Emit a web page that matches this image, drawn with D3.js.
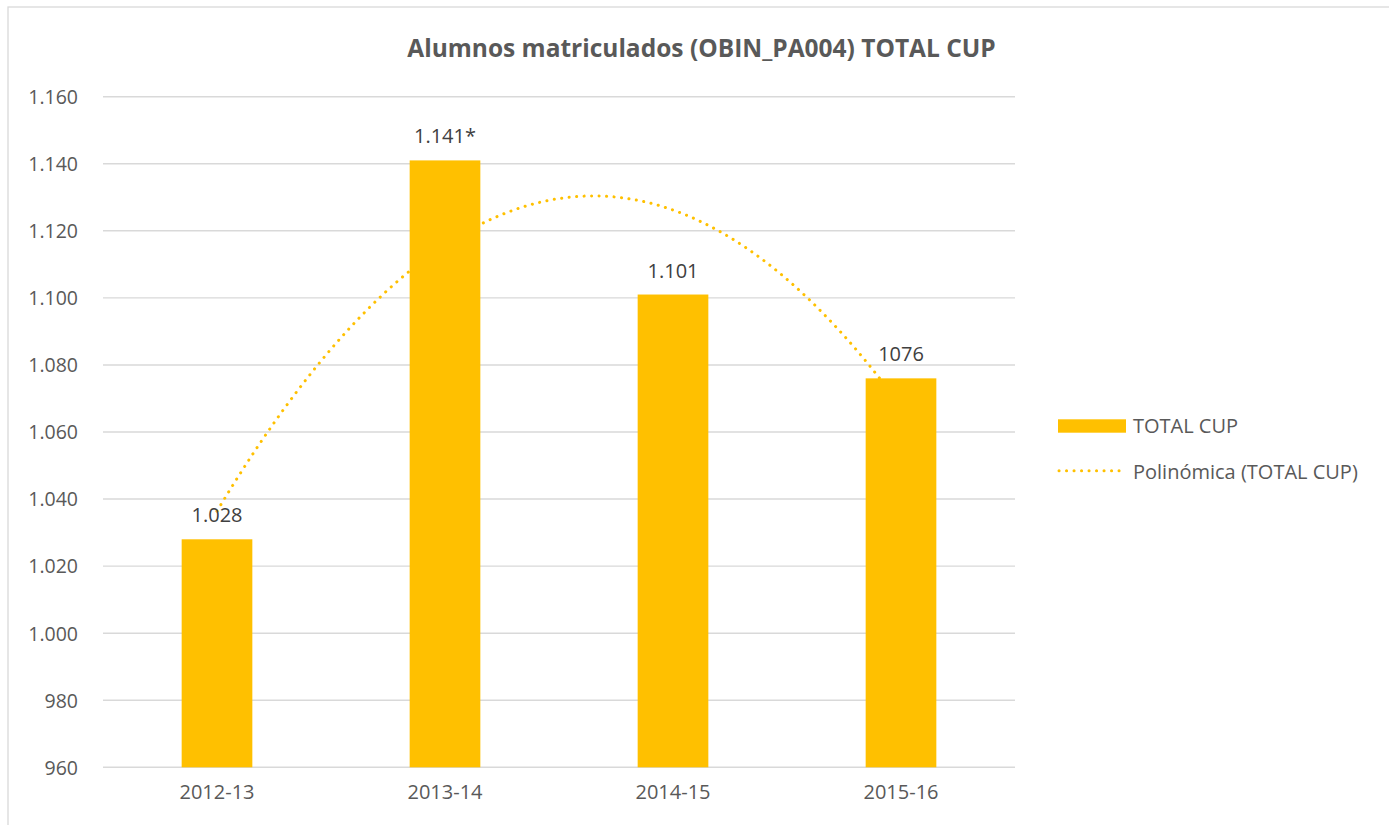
<!DOCTYPE html>
<html>
<head>
<meta charset="utf-8">
<script src="https://cdn.jsdelivr.net/npm/d3@7"></script>
<style>
  html, body { margin: 0; padding: 0; background: #fff; }
  svg { display: block; font-family: "Open Sans", "Noto Sans", sans-serif; }
</style>
</head>
<body>
<svg id="chart" width="1389" height="825"></svg>
<script>
// ---- data ----
const categories = ["2012-13", "2013-14", "2014-15", "2015-16"];
const values = [1028, 1141, 1101, 1076];
const dataLabels = ["1.028", "1.141*", "1.101", "1076"];
const yTicks = [960, 980, 1000, 1020, 1040, 1060, 1080, 1100, 1120, 1140, 1160];
const yTickLabels = ["960", "980", "1.000", "1.020", "1.040", "1.060", "1.080", "1.100", "1.120", "1.140", "1.160"];
const titleText = "Alumnos matriculados (OBIN_PA004) TOTAL CUP";
const seriesName = "TOTAL CUP";
const trendName = "Polinómica (TOTAL CUP)";

// ---- layout ----
const W = 1389, H = 825;
const plot = { left: 103, right: 1015, top: 96.7, bottom: 767.3 };
const barColor = "#FFC000";
const textColor = "#595959";
const gridColor = "#d9d9d9";
const fs = 19.5;

const svg = d3.select("#chart");

// chart border
svg.append("rect")
  .attr("x", 8).attr("y", 7)
  .attr("width", W + 20).attr("height", H + 20)
  .attr("fill", "none").attr("stroke", gridColor).attr("stroke-width", 1.3);

const x = d3.scaleBand().domain(categories)
  .range([plot.left, plot.right]).paddingInner(0.69).paddingOuter(0.345);
const y = d3.scaleLinear().domain([960, 1160]).range([plot.bottom, plot.top]);

// gridlines
svg.append("g").selectAll("line").data(yTicks).join("line")
  .attr("x1", plot.left).attr("x2", plot.right)
  .attr("y1", d => y(d)).attr("y2", d => y(d))
  .attr("stroke", gridColor).attr("stroke-width", 1.4);

// y axis labels
const yAxis = d3.axisLeft(y).tickValues(yTicks)
  .tickFormat((d, i) => yTickLabels[i]).tickSize(0).tickPadding(0);
const yg = svg.append("g").attr("transform", `translate(${78},0)`).call(yAxis);
yg.select(".domain").remove();
yg.selectAll("text").attr("fill", textColor).attr("font-size", fs)
  .attr("font-family", '"Open Sans", sans-serif').attr("dy", "0.35em");

// x axis labels
const xAxis = d3.axisBottom(x).tickSize(0).tickPadding(0);
const xg = svg.append("g").attr("transform", `translate(0,${plot.bottom + 25})`).call(xAxis);
xg.select(".domain").remove();
xg.selectAll("text").attr("fill", textColor).attr("font-size", fs + 0.5)
  .attr("font-family", '"Open Sans", sans-serif').attr("dy", "0.35em");

// polynomial (order 2) trendline: least squares fit of the series
const xs = values.map((_, i) => i + 1);
function polyFit2(xv, yv) {
  const n = xv.length;
  let S = [0,0,0,0,0], T = [0,0,0];
  for (let i = 0; i < n; i++) {
    for (let k = 0; k < 5; k++) S[k] += Math.pow(xv[i], k);
    for (let k = 0; k < 3; k++) T[k] += yv[i] * Math.pow(xv[i], k);
  }
  const A = [[S[0],S[1],S[2],T[0]],[S[1],S[2],S[3],T[1]],[S[2],S[3],S[4],T[2]]];
  for (let c = 0; c < 3; c++) {
    for (let r = c + 1; r < 3; r++) {
      const f = A[r][c] / A[c][c];
      for (let k = c; k < 4; k++) A[r][k] -= f * A[c][k];
    }
  }
  const coef = [0,0,0];
  for (let r = 2; r >= 0; r--) {
    let s = A[r][3];
    for (let k = r + 1; k < 3; k++) s -= A[r][k] * coef[k];
    coef[r] = s / A[r][r];
  }
  return coef;
}
const coef = polyFit2(xs, values);
const xt = d3.scaleLinear().domain([1, categories.length])
  .range([x(categories[0]) + x.bandwidth() / 2, x(categories[categories.length - 1]) + x.bandwidth() / 2]);
const trendPts = d3.range(1, categories.length + 0.0001, 0.02)
  .map(t => [t, coef[0] + coef[1] * t + coef[2] * t * t]);
svg.append("path")
  .datum(trendPts)
  .attr("d", d3.line().x(d => xt(d[0])).y(d => y(d[1])).curve(d3.curveLinear))
  .attr("fill", "none").attr("stroke", barColor).attr("stroke-width", 3)
  .attr("stroke-linecap", "round").attr("stroke-dasharray", "0.1 7.4");

// bars
svg.append("g").selectAll("rect").data(values).join("rect")
  .attr("x", (d, i) => x(categories[i]))
  .attr("width", x.bandwidth())
  .attr("y", d => y(d))
  .attr("height", d => y(960) - y(d))
  .attr("fill", barColor);

// data labels
svg.append("g").selectAll("text").data(values).join("text")
  .attr("x", (d, i) => x(categories[i]) + x.bandwidth() / 2)
  .attr("y", d => y(d) - 17)
  .attr("text-anchor", "middle")
  .attr("fill", "#404040").attr("font-size", fs + 0.5)
  .text((d, i) => dataLabels[i]);

// title
svg.append("text")
  .attr("x", 701.5).attr("y", 57)
  .attr("text-anchor", "middle")
  .attr("fill", textColor).attr("font-size", 24.5).attr("font-weight", "bold")
  .text(titleText);

// legend
const lg = svg.append("g");
lg.append("rect").attr("x", 1058).attr("y", 419.3).attr("width", 68).attr("height", 13.4)
  .attr("fill", barColor);
lg.append("text").attr("x", 1133).attr("y", 432.5).attr("fill", textColor)
  .attr("font-size", fs + 0.5).text(seriesName);
lg.append("line").attr("x1", 1059).attr("x2", 1126).attr("y1", 470.7).attr("y2", 470.7)
  .attr("stroke", barColor).attr("stroke-width", 3)
  .attr("stroke-linecap", "round").attr("stroke-dasharray", "0.1 7.4");
lg.append("text").attr("x", 1133).attr("y", 479).attr("fill", textColor)
  .attr("font-size", fs + 0.5).text(trendName);
</script>
</body>
</html>
